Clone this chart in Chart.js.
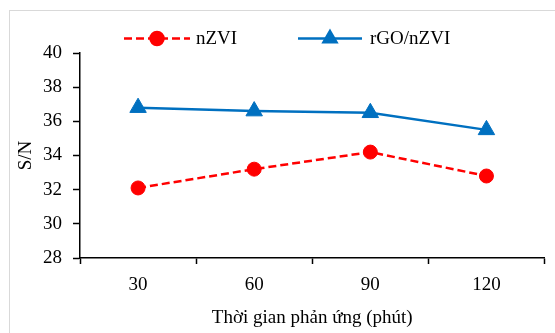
<!DOCTYPE html>
<html lang="vi">
<head>
    <meta charset="UTF-8">
    <title>S/N theo thời gian phản ứng</title>
    <script src="https://cdn.jsdelivr.net/npm/chart.js"></script>
    <style>
        body {
            margin: 0;
            padding: 0;
            background-color: #fff;
            width: 555px;
            height: 333px;
            overflow: hidden;
            position: relative;
        }

        .frame {
            position: absolute;
            left: 9px;
            top: 10px;
            width: 600px;
            height: 400px;
            border: 1px solid #d9d9d9;
        }

        .chart-box {
            position: absolute;
            left: 0;
            top: 0;
            width: 555px;
            height: 333px;
        }
    </style>
</head>
<body>
    <div class="frame"></div>
    <div class="chart-box">
        <canvas id="snChart"></canvas>
    </div>

    <script>
        const timeLabels = ['30', '60', '90', '120'];
        const nzviValues = [32.1, 33.2, 34.2, 32.8];
        const rgoValues = [36.8, 36.6, 36.5, 35.5];
        const yTicks = [28, 30, 32, 34, 36, 38, 40];

        const serif = 'Liberation Serif, Times New Roman, serif';

        // legend drawn by hand: line sample + marker + text
        const lineLegend = {
            id: 'lineLegend',
            afterDraw(chart) {
                const ctx = chart.ctx;
                const items = [
                    { ds: 0, x0: 124, x1: 190, tx: 196, r: 6.5 },
                    { ds: 1, x0: 298, x1: 362, tx: 370, r: 7.5 }
                ];
                const y = 38.5;
                items.forEach(function(it) {
                    const d = chart.data.datasets[it.ds];
                    ctx.save();
                    ctx.strokeStyle = d.borderColor;
                    ctx.lineWidth = d.borderWidth;
                    ctx.setLineDash(d.borderDash || []);
                    ctx.beginPath();
                    ctx.moveTo(it.x0, y);
                    ctx.lineTo(it.x1, y);
                    ctx.stroke();
                    ctx.setLineDash([]);
                    ctx.fillStyle = d.pointBackgroundColor;
                    ctx.strokeStyle = d.pointBorderColor;
                    Chart.helpers.drawPoint(ctx, {
                        pointStyle: d.pointStyle,
                        radius: it.r,
                        rotation: 0,
                        borderWidth: 1
                    }, (it.x0 + it.x1) / 2, y);
                    ctx.fillStyle = '#000';
                    ctx.font = '19px ' + serif;
                    ctx.textBaseline = 'middle';
                    ctx.textAlign = 'left';
                    ctx.fillText(d.label, it.tx, y + 1);
                    ctx.restore();
                });
            }
        };

        new Chart(document.getElementById('snChart'), {
            type: 'line',
            data: {
                labels: timeLabels,
                datasets: [
                    {
                        label: 'nZVI',
                        data: nzviValues,
                        borderColor: '#ff0000',
                        backgroundColor: '#ff0000',
                        pointBackgroundColor: '#ff0000',
                        pointBorderColor: '#ff0000',
                        borderWidth: 2.5,
                        borderDash: [8, 4],
                        pointStyle: 'circle',
                        pointRadius: 7,
                        pointBorderWidth: 1,
                        tension: 0
                    },
                    {
                        label: 'rGO/nZVI',
                        data: rgoValues,
                        borderColor: '#0070c0',
                        backgroundColor: '#0070c0',
                        pointBackgroundColor: '#0070c0',
                        pointBorderColor: '#0070c0',
                        borderWidth: 2.5,
                        pointStyle: 'triangle',
                        pointRadius: 9.5,
                        pointBorderWidth: 1,
                        tension: 0
                    }
                ]
            },
            options: {
                responsive: true,
                maintainAspectRatio: false,
                animation: false,
                layout: {
                    padding: { left: 0, top: 53, right: 3, bottom: 0 }
                },
                plugins: {
                    legend: { display: false },
                    tooltip: { enabled: false }
                },
                scales: {
                    x: {
                        offset: true,
                        afterFit: function(scale) { scale.height = 75; },
                        grid: {
                            offset: true,
                            drawOnChartArea: false,
                            color: '#000',
                            tickLength: 6,
                            tickWidth: 1.5
                        },
                        border: { color: '#000', width: 1.5 },
                        ticks: {
                            color: '#000',
                            padding: 10,
                            font: { family: serif, size: 19 }
                        },
                        title: {
                            display: true,
                            text: 'Thời gian phản ứng (phút)',
                            color: '#000',
                            padding: { top: 0, bottom: 3.5 },
                            font: { family: serif, size: 19 }
                        }
                    },
                    y: {
                        min: 28,
                        max: 40,
                        afterFit: function(scale) { scale.width = 80; },
                        afterBuildTicks: function(scale) {
                            scale.ticks = yTicks.map(function(v) { return { value: v }; });
                        },
                        grid: {
                            drawOnChartArea: false,
                            color: '#000',
                            tickLength: 7,
                            tickWidth: 1.5
                        },
                        border: { color: '#000', width: 1.5 },
                        ticks: {
                            color: '#000',
                            padding: 11,
                            font: { family: serif, size: 19 }
                        },
                        title: {
                            display: true,
                            text: 'S/N',
                            color: '#000',
                            padding: { top: 15, bottom: 0 },
                            font: { family: serif, size: 19 }
                        }
                    }
                }
            },
            plugins: [lineLegend]
        });
    </script>
</body>
</html>
